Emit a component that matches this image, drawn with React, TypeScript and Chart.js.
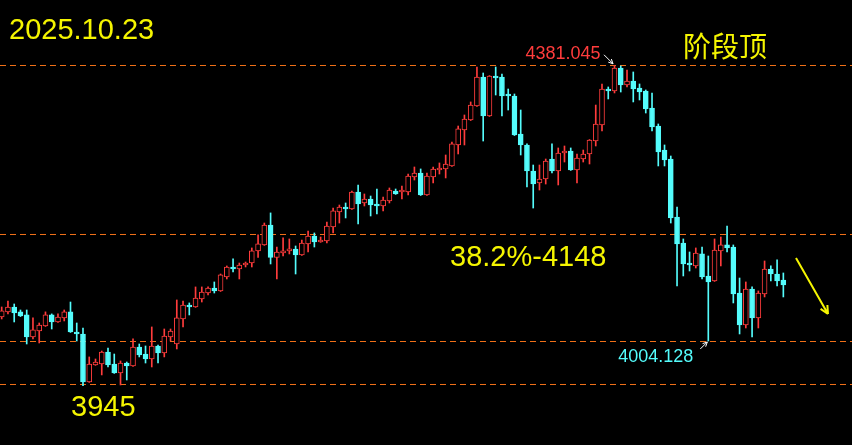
import React, { useEffect, useRef } from "react";
import { Chart, registerables } from "chart.js";

Chart.register(...registerables);

// K-line data (one entry per trading bar)
const opens = [
  4036.9, 4043.9, 4050.6, 4043.9, 4039.7, 4009.6, 4017.8, 4024.6, 4039.7, 4030.1,
  4035.6, 4043.9, 4016.4, 4013.7, 3948.1, 3971.3, 3972.7, 3989.1, 3972.7, 3960.4,
  3974.0, 3969.9, 3995.9, 3986.3, 3979.5, 3997.3, 3987.7, 4009.6, 4000.0, 4034.2,
  4053.3, 4050.6, 4061.5, 4069.7, 4076.6, 4072.5, 4091.6, 4105.3, 4102.5, 4108.0,
  4110.7, 4127.2, 4135.4, 4162.7, 4118.3, 4124.4, 4127.2, 4129.9, 4121.7, 4136.8,
  4147.7, 4139.5, 4140.8, 4160.0, 4180.5, 4187.3, 4184.6, 4207.8, 4192.8, 4198.2,
  4191.4, 4188.7, 4195.5, 4209.2, 4207.8, 4207.8, 4228.3, 4233.8, 4203.7, 4228.3,
  4237.9, 4239.3, 4243.4, 4272.1, 4292.6, 4306.2, 4325.4, 4365.0, 4311.7, 4366.4,
  4365.0, 4341.8, 4339.1, 4287.1, 4272.1, 4236.5, 4220.1, 4225.6, 4252.9, 4236.5,
  4261.1, 4263.9, 4237.9, 4252.9, 4259.8, 4277.5, 4299.4, 4348.6, 4345.9, 4377.3,
  4354.1, 4359.6, 4350.0, 4345.9, 4322.6, 4298.0, 4265.2, 4252.9, 4173.6, 4138.1,
  4110.7, 4106.7, 4123.1, 4093.0, 4086.1, 4127.2, 4135.4, 4132.6, 4069.7, 4026.0,
  4075.2, 4035.6, 4068.4, 4102.5, 4095.7, 4087.5,
];
const highs = [
  4050.6, 4058.8, 4054.7, 4046.5, 4046.5, 4035.6, 4028.7, 4043.9, 4041.1, 4041.1,
  4046.5, 4057.4, 4028.7, 4021.9, 3982.3, 3979.5, 3990.4, 3994.5, 3986.3, 3976.8,
  3975.4, 4006.9, 4000.0, 3997.3, 4023.3, 3998.6, 4020.5, 4020.5, 4060.2, 4058.8,
  4056.1, 4078.0, 4078.0, 4078.0, 4084.8, 4095.7, 4106.7, 4116.3, 4110.7, 4112.1,
  4131.3, 4149.1, 4165.4, 4179.2, 4132.6, 4145.0, 4143.6, 4134.0, 4142.2, 4154.5,
  4151.8, 4146.3, 4166.8, 4185.9, 4190.0, 4192.8, 4209.2, 4217.4, 4205.1, 4202.3,
  4211.9, 4201.0, 4213.3, 4211.9, 4216.0, 4232.4, 4242.0, 4239.3, 4233.8, 4242.0,
  4247.5, 4258.4, 4276.2, 4298.0, 4313.1, 4330.9, 4378.7, 4370.5, 4367.0, 4378.7,
  4369.1, 4348.6, 4341.8, 4319.9, 4273.5, 4244.7, 4244.7, 4252.9, 4273.5, 4268.0,
  4270.7, 4268.0, 4259.8, 4265.2, 4279.5, 4326.7, 4355.5, 4351.4, 4381.045, 4380.1,
  4374.6, 4371.9, 4355.5, 4347.3, 4343.2, 4300.8, 4272.1, 4257.0, 4187.3, 4143.6,
  4125.8, 4131.3, 4132.6, 4120.3, 4143.6, 4146.3, 4161.3, 4135.4, 4090.2, 4084.8,
  4078.0, 4072.5, 4113.5, 4106.7, 4114.9, 4097.1,
];
const lows = [
  4034.2, 4041.1, 4030.1, 4037.5, 4000.0, 4006.9, 4001.4, 4024.0, 4020.5, 4029.5,
  4031.5, 4015.8, 4004.1, 3943.0, 3947.5, 3970.8, 3957.7, 3968.6, 3959.8, 3944.0,
  3950.8, 3969.3, 3982.3, 3974.0, 3968.6, 3974.0, 3982.3, 4004.1, 3993.2, 4023.3,
  4039.7, 4050.0, 4057.4, 4067.0, 4069.7, 4071.8, 4088.9, 4098.4, 4088.9, 4105.3,
  4105.3, 4118.3, 4134.8, 4109.4, 4088.9, 4120.3, 4123.1, 4095.7, 4121.0, 4125.8,
  4132.6, 4139.0, 4138.1, 4151.8, 4165.4, 4172.3, 4184.0, 4164.1, 4188.7, 4175.0,
  4177.7, 4181.9, 4192.8, 4204.5, 4198.2, 4203.7, 4224.2, 4203.0, 4203.0, 4220.1,
  4232.4, 4227.0, 4242.8, 4259.8, 4272.1, 4305.5, 4324.8, 4277.5, 4311.0, 4340.4,
  4311.7, 4319.9, 4285.0, 4258.4, 4214.6, 4185.9, 4210.5, 4218.7, 4233.8, 4217.4,
  4248.8, 4237.3, 4220.1, 4248.8, 4246.1, 4270.7, 4291.2, 4335.0, 4343.2, 4344.5,
  4351.4, 4330.9, 4333.6, 4315.8, 4291.2, 4243.4, 4243.4, 4165.4, 4079.3, 4093.0,
  4099.8, 4103.9, 4088.9, 4004.128, 4085.5, 4106.7, 4125.8, 4056.1, 4013.7, 4021.9,
  4009.6, 4021.9, 4064.3, 4086.1, 4079.3, 4064.3,
];
const closes = [
  4045.3, 4050.6, 4042.4, 4038.3, 4009.6, 4019.2, 4026.0, 4039.7, 4030.1, 4036.9,
  4043.9, 4016.4, 4013.7, 3948.1, 3972.7, 3975.4, 3989.1, 3971.3, 3960.4, 3974.0,
  3969.9, 3995.9, 3985.0, 3979.5, 3997.3, 3987.7, 4010.9, 4017.8, 4035.6, 4053.3,
  4050.6, 4062.9, 4071.1, 4076.6, 4072.5, 4094.4, 4105.3, 4102.5, 4108.0, 4109.4,
  4127.2, 4136.8, 4162.7, 4118.3, 4125.8, 4127.2, 4129.9, 4121.7, 4138.1, 4147.7,
  4139.5, 4142.2, 4161.3, 4181.9, 4187.3, 4184.6, 4207.8, 4191.4, 4198.2, 4190.0,
  4188.7, 4196.9, 4210.5, 4205.1, 4209.2, 4229.6, 4233.8, 4203.7, 4229.6, 4239.3,
  4240.6, 4246.1, 4273.5, 4294.0, 4307.6, 4326.7, 4365.0, 4311.7, 4366.4, 4363.7,
  4339.1, 4339.1, 4285.7, 4272.1, 4236.5, 4218.7, 4225.6, 4250.2, 4236.5, 4261.1,
  4263.9, 4237.9, 4254.3, 4259.8, 4278.9, 4300.8, 4348.6, 4345.9, 4377.3, 4354.1,
  4359.6, 4348.6, 4344.5, 4321.3, 4296.7, 4262.5, 4251.6, 4172.3, 4136.8, 4109.4,
  4108.0, 4124.4, 4091.6, 4084.8, 4128.5, 4135.4, 4131.3, 4068.4, 4026.0, 4075.2,
  4035.6, 4069.7, 4102.5, 4095.7, 4086.1, 4080.7,
];

// Horizontal reference levels
const levelLines = [4381.045, 4150, 4004.128, 3945];
const highIndex = 98;
const lowIndex = 113;
const highLabel = "4381.045";
const lowLabel = "4004.128";
const dateLabel = "2025.10.23";
const stageLabel = "阶段顶";
const fibLabel = "38.2%-4148";
const bottomLabel = "3945";

const RED = "#ff3c3c";
const CYAN = "#54fcfc";
const ORANGE = "#f07018";
const YELLOW = "#f5f500";

const annotationPlugin = {
  id: "klineAnnotations",
  beforeDatasetsDraw(chart: any) {
    const { ctx, chartArea, scales } = chart;
    ctx.save();
    ctx.strokeStyle = ORANGE;
    ctx.lineWidth = 1;
    ctx.setLineDash([6, 4]);
    levelLines.forEach((v) => {
      const y = Math.round(scales.y.getPixelForValue(v)) + 0.5;
      ctx.beginPath();
      ctx.moveTo(chartArea.left, y);
      ctx.lineTo(chartArea.right, y);
      ctx.stroke();
    });
    ctx.restore();
  },
  afterDatasetsDraw(chart: any) {
    const { ctx, scales } = chart;
    const xs = scales.x;
    const ys = scales.y;
    ctx.save();
    const big = '29px "Liberation Sans", Arial, sans-serif';
    ctx.fillStyle = YELLOW;
    ctx.textBaseline = "alphabetic";
    ctx.textAlign = "left";
    ctx.font = big;
    ctx.fillText(dateLabel, 9, 39);
    ctx.fillText(fibLabel, 450, ys.getPixelForValue(levelLines[1]) + 32);
    ctx.fillText(bottomLabel, 71, ys.getPixelForValue(levelLines[3]) + 32);
    ctx.font = '28px "Noto Sans CJK SC", sans-serif';
    ctx.textBaseline = "middle";
    ctx.fillText(stageLabel, 683, 46);

    // high label + arrow
    const hx = xs.getPixelForValue(highIndex);
    const hy = ys.getPixelForValue(highs[highIndex]);
    ctx.font = '18px "Liberation Sans", Arial, sans-serif';
    ctx.textBaseline = "alphabetic";
    ctx.textAlign = "right";
    ctx.fillStyle = RED;
    ctx.fillText(highLabel, hx - 14, hy - 6);
    drawArrow(ctx, hx - 10.5, hy - 10.5, hx - 1.5, hy - 1.5, "#ffffff", 1, 5);

    // low label + arrow
    const lx = xs.getPixelForValue(lowIndex);
    const ly = ys.getPixelForValue(lows[lowIndex]);
    ctx.fillStyle = CYAN;
    ctx.fillText(lowLabel, lx - 15, ly + 21);
    drawArrow(ctx, lx - 8, ly + 8, lx - 1, ly + 1, "#ffffff", 1, 5);

    // yellow trend arrow
    drawArrow(ctx, 796, 258, 828, 314, YELLOW, 2, 9);
    ctx.restore();
  },
};

function drawArrow(ctx: any, x1: number, y1: number, x2: number, y2: number, color: string, w: number, head: number) {
  const ang = Math.atan2(y2 - y1, x2 - x1);
  ctx.save();
  ctx.setLineDash([]);
  ctx.strokeStyle = color;
  ctx.lineWidth = w;
  ctx.beginPath();
  ctx.moveTo(x1, y1);
  ctx.lineTo(x2, y2);
  ctx.moveTo(x2, y2);
  ctx.lineTo(x2 - head * Math.cos(ang - 0.45), y2 - head * Math.sin(ang - 0.45));
  ctx.moveTo(x2, y2);
  ctx.lineTo(x2 - head * Math.cos(ang + 0.45), y2 - head * Math.sin(ang + 0.45));
  ctx.stroke();
  ctx.restore();
}

export default function App() {
  const canvasRef = useRef<HTMLCanvasElement | null>(null);

  useEffect(() => {
    document.body.style.margin = "0";
    document.body.style.background = "#000";
    const canvas = canvasRef.current;
    if (!canvas) return;
    const up = closes.map((c, i) => c >= opens[i]);
    const bodies = opens.map((o, i) => ({ x: i, y: [Math.min(o, closes[i]), Math.max(o, closes[i])] }));
    const wicks = highs.map((h, i) => ({ x: i, y: [lows[i], h] }));
    const chart = new Chart(canvas, {
      type: "bar",
      data: {
        datasets: [
          {
            label: "body",
            data: bodies as any,
            backgroundColor: up.map((u) => (u ? "#000000" : CYAN)),
            borderColor: up.map((u) => (u ? RED : CYAN)),
            borderWidth: 1,
            borderSkipped: false,
            barThickness: 5,
            minBarLength: 2,
            grouped: false,
            order: 0,
          } as any,
          {
            label: "wick",
            data: wicks as any,
            backgroundColor: up.map((u) => (u ? RED : CYAN)),
            borderWidth: 0,
            barThickness: 1,
            grouped: false,
            order: 1,
          } as any,
        ],
      },
      options: {
        animation: false,
        responsive: true,
        maintainAspectRatio: false,
        layout: { padding: 0 },
        plugins: { legend: { display: false }, tooltip: { enabled: false } },
        scales: {
          x: { type: "linear", min: -0.272, max: 135.98, display: false, offset: false },
          y: { min: 3861.9, max: 4470.3, display: false },
        },
      },
      plugins: [annotationPlugin],
    });
    return () => chart.destroy();
  }, []);

  return (
    <div style={{ position: "fixed", left: 0, top: 0, width: 852, height: 445, background: "#000" }}>
      <canvas ref={canvasRef} />
    </div>
  );
}
